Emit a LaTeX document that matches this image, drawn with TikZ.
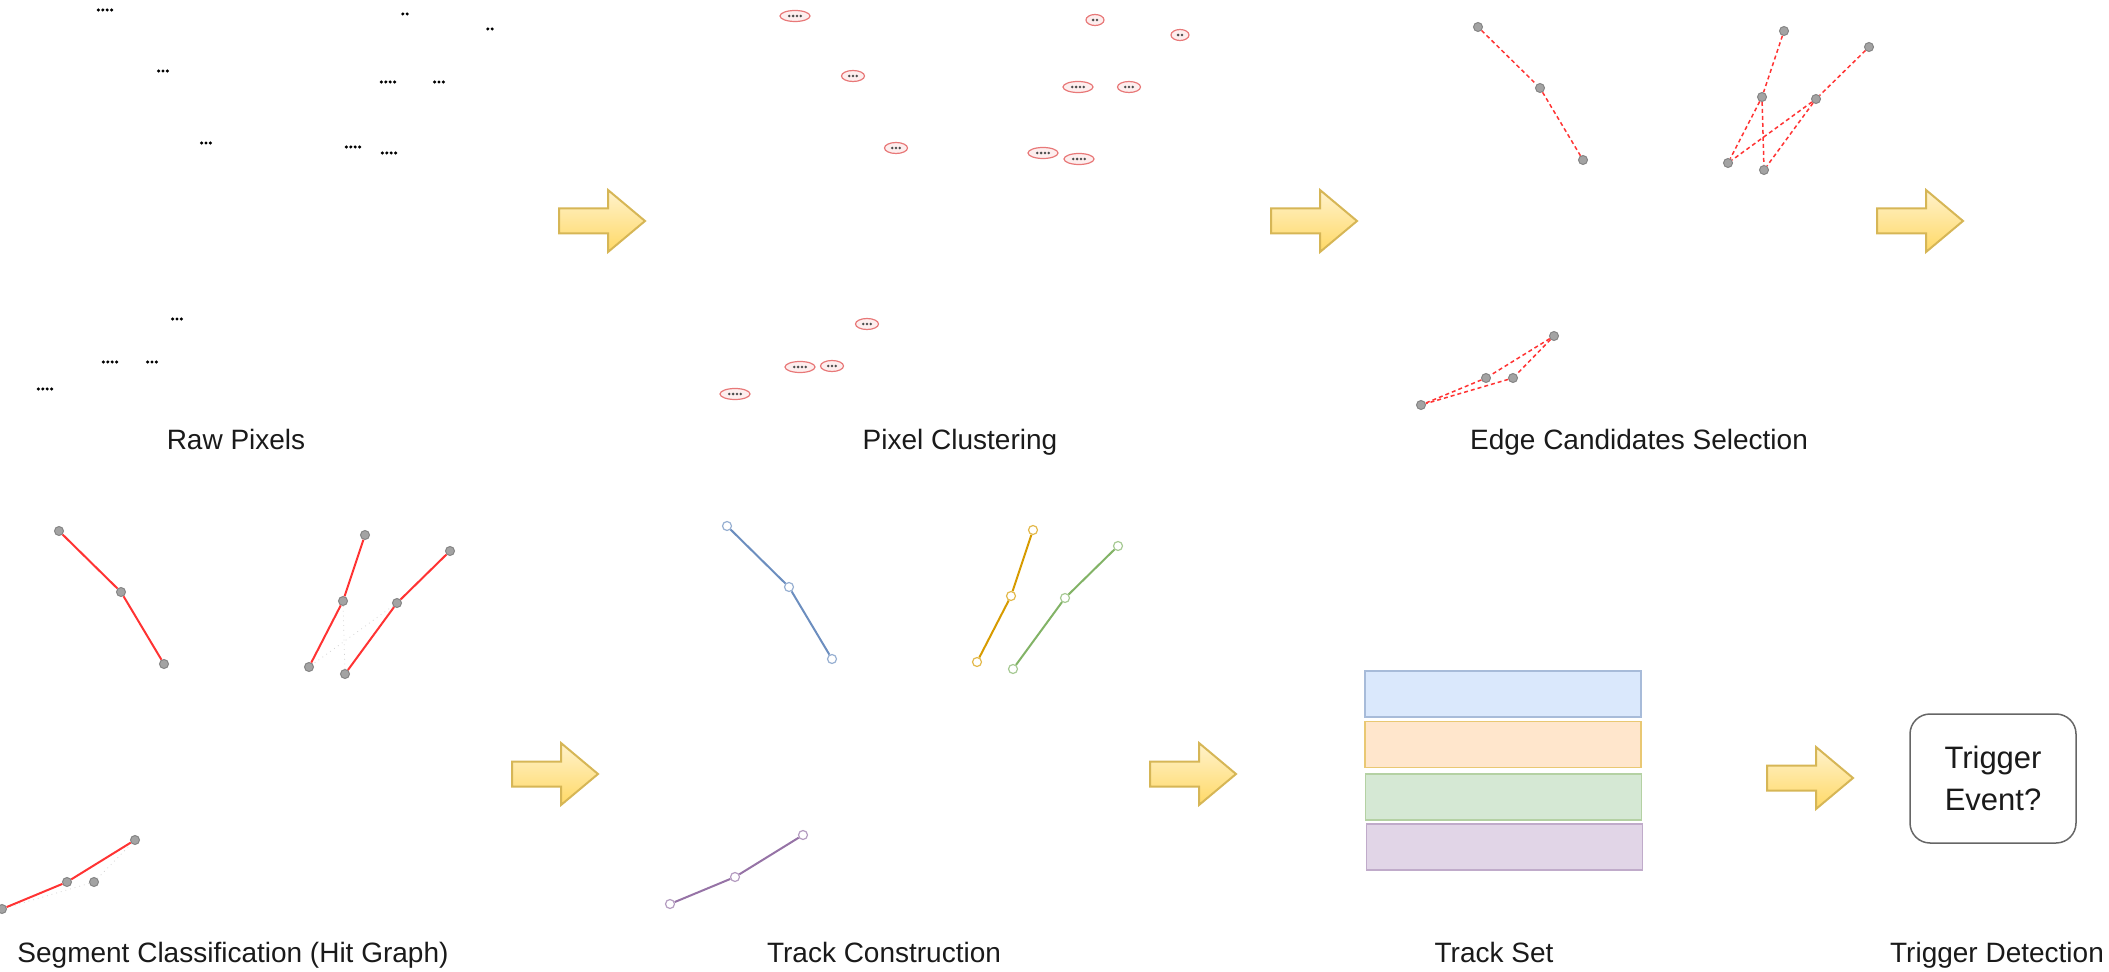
\documentclass[tikz,border=0pt]{standalone}
\usepackage{fontspec}
\setmainfont{Liberation Sans}
\usetikzlibrary{shapes.geometric}
\definecolor{arrowstroke}{HTML}{D6B656}
\definecolor{arrowtop}{HTML}{FFF2CC}
\definecolor{arrowbot}{HTML}{FFD966}
\definecolor{hitfill}{HTML}{A3A3A3}
\definecolor{hitdraw}{HTML}{858585}
\definecolor{candred}{HTML}{FF3333}
\definecolor{clusdraw}{HTML}{E87878}
\definecolor{clusfill}{HTML}{FDEEEE}
\definecolor{tblue}{HTML}{6C8EBF}
\definecolor{torange}{HTML}{D79B00}
\definecolor{tgreen}{HTML}{82B366}
\definecolor{tpurple}{HTML}{9673A6}
\definecolor{fblue}{HTML}{DAE8FC}
\definecolor{forange}{HTML}{FFE6CC}
\definecolor{fgreen}{HTML}{D5E8D4}
\definecolor{fpurple}{HTML}{E1D5E7}
\definecolor{labeltext}{HTML}{1A1A1A}
\begin{document}
\begin{tikzpicture}[x=0.5pt,y=-0.5pt,
  lbl/.style={font=\fontsize{14}{17}\selectfont, anchor=base, text=labeltext, inner sep=0pt},
  clus/.style={ellipse, draw=clusdraw, fill=clusfill, line width=0.6pt, inner sep=0pt, minimum height=5.5pt},
  hit/.style={circle, fill=hitfill, draw=hitdraw, line width=0.5pt, inner sep=0pt, minimum size=4.5pt},
  cand/.style={draw=candred, dash pattern=on 2pt off 1.5pt, line width=0.75pt},
  seg/.style={draw=candred, line width=1pt},
  faint/.style={draw=gray!35, dotted, line width=0.4pt},
  thit/.style={circle, fill=white, line width=0.6pt, inner sep=0pt, minimum size=4.5pt},
  trk/.style={line width=1pt},
  barrow/.style={draw=arrowstroke, top color=arrowtop, bottom color=arrowbot, line width=1pt, line join=miter},
  trackbox/.style={rectangle, line width=0.75pt, minimum width=138pt, minimum height=23pt, inner sep=0pt},
  trig/.style={rectangle, draw=black!60, line width=0.75pt, rounded corners=10pt, minimum width=83pt, minimum height=64.5pt, align=center, text=labeltext, font=\fontsize{15.5}{21}\selectfont}
]
\useasboundingbox (0,0) rectangle (2109,972);

% ---------- Raw pixels ----------
\foreach \x/\y/\k in {105/10/4, 405/14/2, 490/29/2, 163/71/3, 388/82/4, 439/82/3, 206/143/3, 353/147/4, 389/153/4, 177/319/3, 110/362/4, 152/362/3, 45/389/4} {
  \foreach \i [evaluate=\i as \xx using \x+(\i-(\k+1)/2)*4.4] in {1,...,\k} {
    \fill[black] (\xx,\y) circle[radius=0.85pt];
  }
}

% ---------- Pixel clustering ----------
\foreach \n/\x/\y/\k/\w in {1/795/16/4/15, 2/1095/20/2/9, 3/1180/35/2/9, 4/853/76/3/11.5, 5/1078/87/4/15, 6/1129/87/3/11.5, 7/896/148/3/11.5, 8/1043/153/4/15, 9/1079/159/4/15, 10/867/324/3/11.5, 11/800/367/4/15, 12/832/366/3/11.5, 13/735/394/4/15} {
  \node[clus, minimum width=\w pt] (c\n) at (\x,\y) {};
  \foreach \i [evaluate=\i as \xx using \x+(\i-(\k+1)/2)*3.8] in {1,...,\k} {
    \fill[black!70] (\xx,\y) circle[radius=0.7pt];
  }
}

% ---------- Edge candidates selection ----------
\def\hits{A1/1478/27,A2/1540/88,A3/1583/160,B1/1784/31,B2/1762/97,B3/1728/163,C1/1869/47,C2/1816/99,C3/1764/170,D1/1554/336,D2/1486/378,D3/1513/378,D4/1421/405}
\foreach \n/\x/\y in \hits {\node[hit] (e\n) at (\x,\y) {};}
\foreach \a/\b in {A1/A2, A2/A3, B1/B2, B2/B3, B2/C3, C1/C2, C2/B3, C2/C3, D1/D2, D1/D3, D2/D4, D3/D4} {
  \draw[cand] (e\a) -- (e\b);
}

% ---------- Segment classification ----------
\begin{scope}[shift={(-1419,504)}]
  \foreach \n/\x/\y in \hits {\node[hit] (s\n) at (\x,\y) {};}
\end{scope}
\foreach \a/\b in {B2/C3, C2/B3, D1/D3, D3/D4} {
  \draw[faint] (s\a) -- (s\b);
}
\foreach \a/\b in {A1/A2, A2/A3, B1/B2, B2/B3, C1/C2, C2/C3, D1/D2, D2/D4} {
  \draw[seg] (s\a) -- (s\b);
}

% ---------- Track construction ----------
\begin{scope}[shift={(-751,499)}]
  \foreach \n/\x/\y/\c in {A1/1478/27/tblue, A2/1540/88/tblue, A3/1583/160/tblue,
      B1/1784/31/torange, B2/1762/97/torange, B3/1728/163/torange,
      C1/1869/47/tgreen, C2/1816/99/tgreen, C3/1764/170/tgreen,
      D1/1554/336/tpurple, D2/1486/378/tpurple, D4/1421/405/tpurple} {
    \node[thit, draw=\c!70] (t\n) at (\x,\y) {};
  }
\end{scope}
\draw[trk, tblue] (tA1) -- (tA2) -- (tA3);
\draw[trk, torange] (tB1) -- (tB2) -- (tB3);
\draw[trk, tgreen] (tC1) -- (tC2) -- (tC3);
\draw[trk, tpurple] (tD1) -- (tD2) -- (tD4);

% ---------- Track set ----------
\node[trackbox, fill=fblue, draw=tblue!60] (ts1) at (1503,694) {};
\node[trackbox, fill=forange, draw=torange!55] (ts2) at (1503,744.5) {};
\node[trackbox, fill=fgreen, draw=tgreen!60] (ts3) at (1503.5,797) {};
\node[trackbox, fill=fpurple, draw=tpurple!60] (ts4) at (1504.5,847) {};

% ---------- Trigger ----------
\node[trig] (trig) at (1993,778.5) {Trigger\\Event?};

% ---------- Block arrows ----------
\foreach \x/\y in {559/221, 1271/221, 1877/221, 512/774, 1150/774, 1767/778} {
  \path[barrow] (\x,\y-12.5) -- (\x+49,\y-12.5) -- (\x+49,\y-31) -- (\x+86,\y)
     -- (\x+49,\y+31) -- (\x+49,\y+12.5) -- (\x,\y+12.5) -- cycle;
}

% ---------- Labels ----------
\node[lbl] (l1) at (236,450) {Raw Pixels};
\node[lbl] (l2) at (960,450) {Pixel Clustering};
\node[lbl] (l3) at (1639,450) {Edge Candidates Selection};
\node[lbl] (l4) at (233,962) {Segment Classification (Hit Graph)};
\node[lbl] (l5) at (884,962) {Track Construction};
\node[lbl] (l6) at (1494,962) {Track Set};
\node[lbl] (l7) at (1997,962) {Trigger Detection};
\end{tikzpicture}
\end{document}
